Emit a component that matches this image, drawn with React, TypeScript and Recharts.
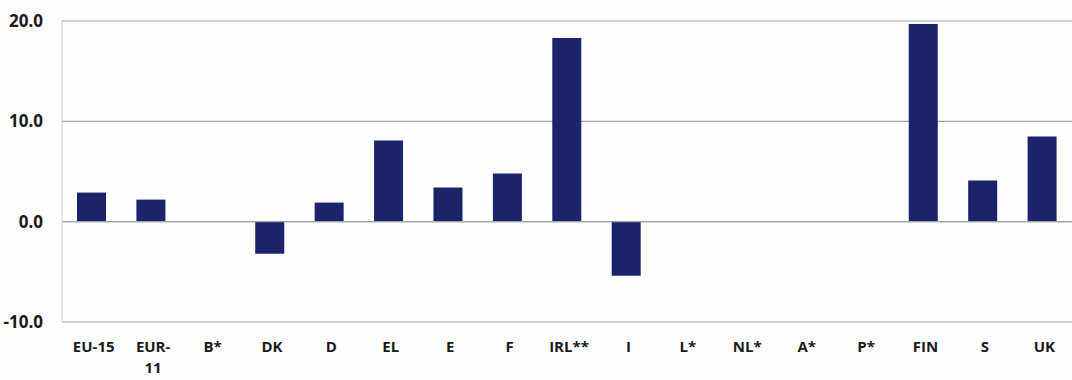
import React from "react";
import { BarChart, Bar, XAxis, YAxis, CartesianGrid, ReferenceLine } from "recharts";

// Member states / aggregates along the x axis
const categories: string[] = [
  "EU-15", "EUR-11", "B*", "DK", "D", "EL", "E", "F", "IRL**",
  "I", "L*", "NL*", "A*", "P*", "FIN", "S", "UK",
];

// Percentage change per category (null = no figure available)
const values: (number | null)[] = [
  2.9, 2.2, null, -3.2, 1.9, 8.1, 3.4, 4.8, 18.3,
  -5.4, null, null, null, null, 19.7, 4.1, 8.5,
];

const yTicks: number[] = [-10, 0, 10, 20];

const data = categories.map((name, i) => ({ name, value: values[i] }));

const FONT = "'Open Sans', 'DejaVu Sans', sans-serif";
const BAR_COLOR = "#1b236a";

// Category label, wrapping long hyphenated names after the hyphen
const CategoryTick = (props: any) => {
  const { x, y, payload } = props;
  const label: string = payload.value;
  let lines = [label];
  const h = label.indexOf("-");
  if (label.length > 5 && h > 0) {
    lines = [label.slice(0, h + 1), label.slice(h + 1)];
  }
  return (
    <text
      x={x + 2}
      y={y + 24}
      textAnchor="middle"
      fontFamily={FONT}
      fontWeight={700}
      fontSize={15}
      fill="#1a1a1a"
    >
      {lines.map((l, i) => (
        <tspan key={i} x={x + 2} dy={i === 0 ? 0 : 21}>
          {l}
        </tspan>
      ))}
    </text>
  );
};

export default function App() {
  return (
    <div style={{ position: "absolute", left: 0, top: 0, background: "#fdfdfd" }}>
      <BarChart
        width={1072}
        height={380}
        data={data}
        margin={{ top: 21, right: 0, bottom: 0, left: 1 }}
        barCategoryGap={0}
      >
        <CartesianGrid vertical={false} horizontal stroke="#a3a3a3" strokeWidth={1.2} />
        <XAxis
          dataKey="name"
          interval={0}
          axisLine={false}
          tickLine={false}
          tickMargin={0}
          height={58}
          tick={<CategoryTick />}
        />
        <YAxis
          domain={[-10, 20]}
          ticks={yTicks}
          width={61}
          axisLine={{ stroke: "#cfcfcf" }}
          tickLine={false}
          tickMargin={13}
          tickFormatter={(v: number) => v.toFixed(1)}
          tick={{ fontFamily: FONT, fontWeight: 700, fontSize: 17, fill: "#1a1a1a" }}
        />
        <ReferenceLine y={0} stroke="#a3a3a3" strokeWidth={1.2} />
        <Bar dataKey="value" fill={BAR_COLOR} barSize={29} isAnimationActive={false} />
      </BarChart>
    </div>
  );
}
